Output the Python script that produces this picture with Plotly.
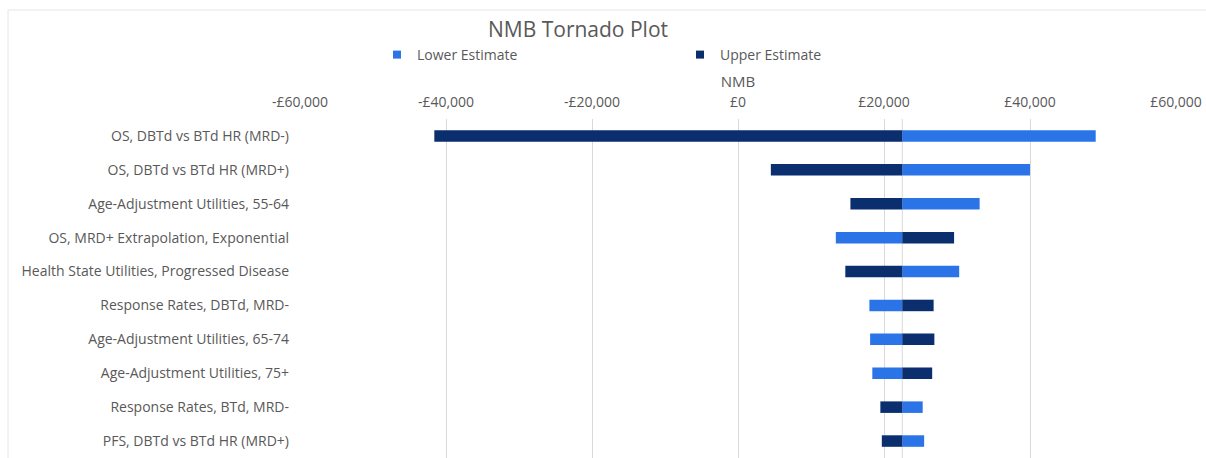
import plotly.graph_objects as go

# ---- data ----
CATEGORIES = [
    "OS, DBTd vs BTd HR (MRD-)",
    "OS, DBTd vs BTd HR (MRD+)",
    "Age-Adjustment Utilities, 55-64",
    "OS, MRD+ Extrapolation, Exponential",
    "Health State Utilities, Progressed Disease",
    "Response Rates, DBTd, MRD-",
    "Age-Adjustment Utilities, 65-74",
    "Age-Adjustment Utilities, 75+",
    "Response Rates, BTd, MRD-",
    "PFS, DBTd vs BTd HR (MRD+)",
]
LOWER_ESTIMATE = [49000, 40000, 33100, 13400, 30300, 18000, 18100, 18400, 25300, 25500]
UPPER_ESTIMATE = [-41600, 4500, 15400, 29600, 14700, 26800, 26900, 26600, 19500, 19700]
BASE_NMB = 22500
TICK_VALUES = [-60000, -40000, -20000, 0, 20000, 40000, 60000]
TICK_LABELS = ["-£60,000", "-£40,000", "-£20,000", "£0", "£20,000", "£40,000", "£60,000"]

LIGHT = "#2B74E8"
DARK = "#0B2F6E"
TEXT = "#595959"
GRID = "#D9D9D9"
FONT = "Open Sans"

fig = go.Figure()
fig.add_trace(go.Bar(
    y=CATEGORIES, x=[v - BASE_NMB for v in LOWER_ESTIMATE], base=BASE_NMB,
    orientation="h", marker=dict(color=LIGHT, line=dict(width=0)), width=0.34,
    name="Lower Estimate", showlegend=False, legendgroup="lo",
))
fig.add_trace(go.Bar(
    y=CATEGORIES, x=[v - BASE_NMB for v in UPPER_ESTIMATE], base=BASE_NMB,
    orientation="h", marker=dict(color=DARK, line=dict(width=0)), width=0.34,
    name="Upper Estimate", showlegend=False, legendgroup="up",
))
# legend entries (small square markers like the original)
fig.add_trace(go.Scatter(x=[None], y=[None], mode="markers", name="Lower Estimate",
                         marker=dict(symbol="square", size=8, color=LIGHT), legendgroup="lo"))
fig.add_trace(go.Scatter(x=[None], y=[None], mode="markers", name="Upper Estimate",
                         marker=dict(symbol="square", size=8, color=DARK), legendgroup="up"))

# vertical axis line at base value
fig.add_shape(type="line", xref="x", yref="paper", x0=BASE_NMB, x1=BASE_NMB, y0=0, y1=1,
              line=dict(color=GRID, width=1), layer="below")
# chart border
fig.add_shape(type="rect", xref="paper", yref="paper", x0=-0.3333, x1=1.2, y0=-0.2, y1=1.3215,
              line=dict(color="#E6E6E6", width=1), layer="below")

fig.update_layout(
    width=1206, height=458,
    margin=dict(l=300, r=30, t=119, b=0),
    paper_bgcolor="white", plot_bgcolor="white",
    barmode="overlay",
    font=dict(family=FONT, size=14, color=TEXT),
    title=dict(text="NMB Tornado Plot", x=578 / 1206, xref="container", xanchor="center",
               y=1 - 30 / 458, yref="container", yanchor="middle",
               font=dict(family=FONT, size=21, color=TEXT)),
    legend=dict(orientation="h", x=(377 - 300) / 876, xanchor="left",
                y=(458 - 55) / 339, yanchor="middle",
                entrywidth=258, entrywidthmode="pixels",
                font=dict(family=FONT, size=14, color=TEXT), bgcolor="rgba(0,0,0,0)"),
    xaxis=dict(side="top", range=[-60000, 60000], tickvals=TICK_VALUES, ticktext=TICK_LABELS,
               showgrid=True, gridcolor=GRID, gridwidth=1, zeroline=False, showline=False,
               ticks="", ticklabelstandoff=8, tickfont=dict(size=14, color=TEXT),
               title=dict(text="NMB", standoff=0, font=dict(size=15, color=TEXT))),
    yaxis=dict(autorange="reversed", showgrid=False, zeroline=False, showline=False,
               ticks="", ticklabelstandoff=10, tickfont=dict(size=14, color=TEXT)),
)

fig.write_html("out.html", config={"displayModeBar": False},
               post_script="document.body.style.margin='0';")
